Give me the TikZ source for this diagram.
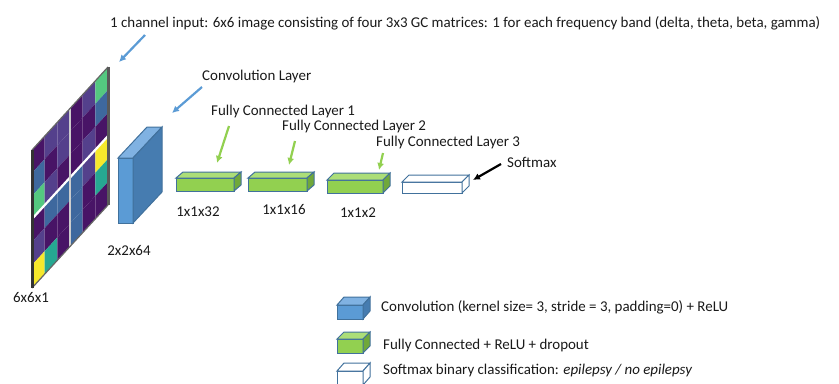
\documentclass[tikz,border=0pt]{standalone}
\usepackage{fontspec}
\setmainfont{Carlito}
\usepackage{tikz}
\usetikzlibrary{arrows.meta}

\definecolor{vdark}{RGB}{72,20,102}
\definecolor{vpurp}{RGB}{84,64,140}
\definecolor{vblue}{RGB}{62,104,158}
\definecolor{vteal}{RGB}{38,168,146}
\definecolor{vgreen}{RGB}{84,200,128}
\definecolor{vyell}{RGB}{246,232,44}
\definecolor{convfront}{RGB}{91,155,213}
\definecolor{convtop}{RGB}{128,178,226}
\definecolor{convside}{RGB}{70,124,176}
\definecolor{fcfront}{RGB}{146,208,80}
\definecolor{fctop}{RGB}{172,222,120}
\definecolor{fcside}{RGB}{112,168,58}
\definecolor{boxline}{RGB}{65,113,156}
\definecolor{arrblue}{RGB}{91,155,213}
\definecolor{arrgreen}{RGB}{146,208,80}

\begin{document}
\begin{tikzpicture}[x=1bp,y=-1bp,
  lbl/.style={inner sep=0pt,text=black!90,font=\fontsize{15}{18}\selectfont},
  boxedge/.style={draw=boxline,line width=1bp},
  bluearrow/.style={->,>={Latex[length=7bp,width=7bp]},draw=arrblue,line width=2.2bp},
  greenarrow/.style={->,>={Latex[length=7bp,width=7bp]},draw=arrgreen,line width=2.2bp},
  blackarrow/.style={->,>={Latex[length=7bp,width=7bp]},draw=black,line width=2.2bp}]
\useasboundingbox (0,0) rectangle (839,383);
\begin{scope}[shift={(32,150)},yslant=1.092,x=12.67bp,y=-23bp]
\fill[vdark] (0,0) rectangle ++(1,1);
\fill[vpurp] (1,0) rectangle ++(1,1);
\fill[vpurp] (2,0) rectangle ++(1,1);
\fill[vdark] (3,0) rectangle ++(1,1);
\fill[vpurp] (4,0) rectangle ++(1,1);
\fill[vgreen] (5,0) rectangle ++(1,1);
\fill[vblue] (0,1) rectangle ++(1,1);
\fill[vdark] (1,1) rectangle ++(1,1);
\fill[vpurp] (2,1) rectangle ++(1,1);
\fill[vdark] (3,1) rectangle ++(1,1);
\fill[vdark] (4,1) rectangle ++(1,1);
\fill[vblue] (5,1) rectangle ++(1,1);
\fill[vgreen] (0,2) rectangle ++(1,1);
\fill[vpurp] (1,2) rectangle ++(1,1);
\fill[vdark] (2,2) rectangle ++(1,1);
\fill[vdark] (3,2) rectangle ++(1,1);
\fill[vpurp] (4,2) rectangle ++(1,1);
\fill[vdark] (5,2) rectangle ++(1,1);
\fill[vdark] (0,3) rectangle ++(1,1);
\fill[vblue] (1,3) rectangle ++(1,1);
\fill[vblue] (2,3) rectangle ++(1,1);
\fill[vblue] (3,3) rectangle ++(1,1);
\fill[vpurp] (4,3) rectangle ++(1,1);
\fill[vyell] (5,3) rectangle ++(1,1);
\fill[vpurp] (0,4) rectangle ++(1,1);
\fill[vdark] (1,4) rectangle ++(1,1);
\fill[vdark] (2,4) rectangle ++(1,1);
\fill[vblue] (3,4) rectangle ++(1,1);
\fill[vdark] (4,4) rectangle ++(1,1);
\fill[vteal] (5,4) rectangle ++(1,1);
\fill[vyell] (0,5) rectangle ++(1,1);
\fill[vteal] (1,5) rectangle ++(1,1);
\fill[vdark] (2,5) rectangle ++(1,1);
\fill[vblue] (3,5) rectangle ++(1,1);
\fill[vdark] (4,5) rectangle ++(1,1);
\fill[vdark] (5,5) rectangle ++(1,1);
\draw[white,line width=2.2bp] (0,3) -- (6,3);
\draw[black!20,line width=1.5bp] (3,0) -- (3,6);
\draw[black!60,line width=1.2bp] (0,0) -- (6,0) (0,6) -- (6,6);
\draw[black!80,line width=3bp] (0,0) -- (0,6);
\draw[black!65,line width=3bp] (6,0) -- (6,6);
\end{scope}
% convolution block
\draw[boxedge,fill=convfront] (118,158) rectangle (133,223);
\draw[boxedge,fill=convtop] (118,158) -- (147,127) -- (162,127) -- (133,158) -- cycle;
\draw[boxedge,fill=convside] (133,158) -- (162,127) -- (162,192) -- (133,223) -- cycle;
% fully connected blocks
\draw[boxedge,fill=fcfront] (176,178) rectangle (234,191);
\draw[boxedge,fill=fctop] (176,178) -- (183,172) -- (241,172) -- (234,178) -- cycle;
\draw[boxedge,fill=fcside] (234,178) -- (241,172) -- (241,185) -- (234,191) -- cycle;
\draw[boxedge,fill=fcfront] (248,178) rectangle (307,191);
\draw[boxedge,fill=fctop] (248,178) -- (255,172) -- (314,172) -- (307,178) -- cycle;
\draw[boxedge,fill=fcside] (307,178) -- (314,172) -- (314,185) -- (307,191) -- cycle;
\draw[boxedge,fill=fcfront] (327,180) rectangle (383,193);
\draw[boxedge,fill=fctop] (327,180) -- (334,173) -- (390,173) -- (383,180) -- cycle;
\draw[boxedge,fill=fcside] (383,180) -- (390,173) -- (390,186) -- (383,193) -- cycle;
% softmax block
\draw[boxedge,fill=white] (402,182) rectangle (462,193);
\draw[boxedge,fill=white] (402,182) -- (409,175) -- (469,175) -- (462,182) -- cycle;
\draw[boxedge,fill=white] (462,182) -- (469,175) -- (469,186) -- (462,193) -- cycle;
% labels and pointers
\node[lbl,anchor=base west] (inputlbl) at (110,27) {1 channel input: 6x6 image consisting of four 3x3 GC matrices: 1 for each frequency band (delta, theta, beta, gamma)};
\coordinate (inputtail) at (145,35);
\coordinate (inputtip) at (119,62);
\draw[bluearrow] (inputtail) -- (inputtip);
\node[lbl,anchor=west] (convlbl) at (202,77) {Convolution Layer};
\coordinate (convtail) at (202,87);
\coordinate (convtip) at (172,113);
\draw[bluearrow] (convtail) -- (convtip);
\node[lbl,anchor=west] (fconelbl) at (211,112) {Fully Connected Layer 1};
\coordinate (fconetail) at (229,126);
\coordinate (fconetip) at (217,163);
\draw[greenarrow] (fconetail) -- (fconetip);
\node[lbl,anchor=west] (fctwolbl) at (282,127) {Fully Connected Layer 2};
\coordinate (fctwotail) at (295,141);
\coordinate (fctwotip) at (289,165);
\draw[greenarrow] (fctwotail) -- (fctwotip);
\node[lbl,anchor=west] (fcthreelbl) at (376,143) {Fully Connected Layer 3};
\coordinate (fcthreetail) at (383,153);
\coordinate (fcthreetip) at (379,170);
\draw[greenarrow] (fcthreetail) -- (fcthreetip);
\node[lbl,anchor=west] (softlbl) at (507,162) {Softmax};
\coordinate (softtail) at (501,164);
\coordinate (softtip) at (473,180);
\draw[blackarrow] (softtail) -- (softtip);
% sizes
\node[lbl] (insize) at (31,298) {6x6x1};
\node[lbl] (convsize) at (129,251) {2x2x64};
\node[lbl] (fconesize) at (198,212) {1x1x32};
\node[lbl] (fctwosize) at (284,210) {1x1x16};
\node[lbl] (fcthreesize) at (358,213) {1x1x2};
% legend
\draw[boxedge,fill=convfront] (337,305) rectangle (363,319);
\draw[boxedge,fill=convtop] (337,305) -- (344,297) -- (370,297) -- (363,305) -- cycle;
\draw[boxedge,fill=convside] (363,305) -- (370,297) -- (370,311) -- (363,319) -- cycle;
\node[lbl,anchor=west] (convkey) at (381,307) {Convolution (kernel size= 3, stride = 3, padding=0) + ReLU};
\draw[boxedge,fill=fcfront] (337,339) rectangle (363,353);
\draw[boxedge,fill=fctop] (337,339) -- (344,332) -- (370,332) -- (363,339) -- cycle;
\draw[boxedge,fill=fcside] (363,339) -- (370,332) -- (370,346) -- (363,353) -- cycle;
\node[lbl,anchor=west] (fckey) at (383,346) {Fully Connected + ReLU + dropout};
\draw[boxedge,fill=white] (337,371) rectangle (363,385);
\draw[boxedge,fill=white] (337,371) -- (344,363) -- (370,363) -- (363,371) -- cycle;
\draw[boxedge,fill=white] (363,371) -- (370,363) -- (370,377) -- (363,385) -- cycle;
\node[lbl,anchor=west] (softkey) at (383,371) {Softmax binary classification: \textit{epilepsy / no epilepsy}};
\end{tikzpicture}
\end{document}
